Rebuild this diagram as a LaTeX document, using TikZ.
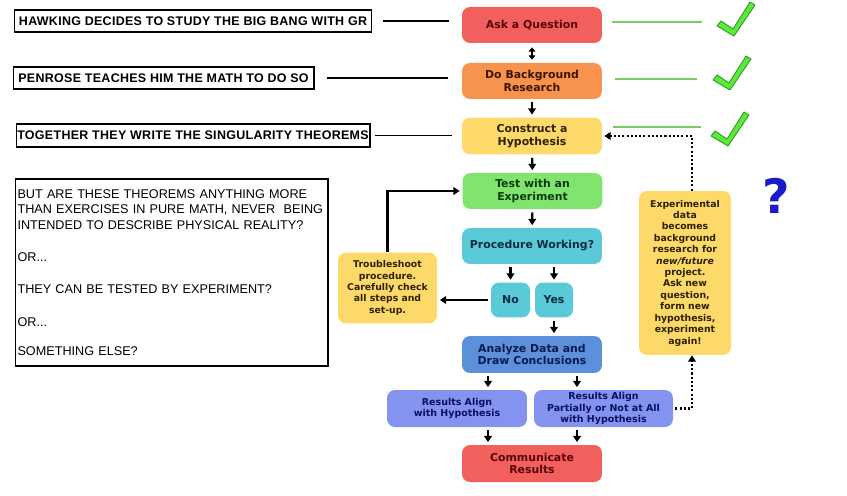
\documentclass[tikz,border=0pt]{standalone}
\usepackage{fontspec}
\setmainfont{Liberation Sans}
\newfontfamily\flowfont{DejaVu Sans}
\newfontfamily\headfont[LetterSpace=2.4]{Liberation Sans}
\usetikzlibrary{positioning}
\usetikzlibrary{arrows.meta}
\definecolor{askred}{HTML}{F2605E}
\definecolor{askink}{HTML}{5A0505}
\definecolor{bgorange}{HTML}{F7934C}
\definecolor{bgink}{HTML}{3A1400}
\definecolor{hypyellow}{HTML}{FCD968}
\definecolor{yelink}{HTML}{2E2000}
\definecolor{testgreen}{HTML}{80E46F}
\definecolor{testink}{HTML}{0B3B0B}
\definecolor{proccyan}{HTML}{5BCAD8}
\definecolor{procink}{HTML}{0B2B40}
\definecolor{anablue}{HTML}{5C90DA}
\definecolor{anaink}{HTML}{0A1A50}
\definecolor{resblue}{HTML}{8593F0}
\definecolor{resink}{HTML}{0A1060}
\definecolor{chkfill}{HTML}{5CE83C}
\definecolor{chkedge}{HTML}{2E9A1E}
\definecolor{chkline}{HTML}{7ACC66}
\definecolor{qblue}{HTML}{1A1ACC}
\tikzset{
    flowbox/.style = {rounded corners=0.16cm, align=center, inner sep=1pt,
        font=\flowfont\bfseries\fontsize{6.2}{7.3}\selectfont,
        minimum width=2.8cm, minimum height=0.72cm},
    notebox/.style = {rounded corners=0.16cm, align=center, inner sep=1pt,
        fill=hypyellow, text=yelink,
        font=\flowfont\bfseries\fontsize{5.3}{6.5}\selectfont},
    resbox/.style = {flowbox, fill=resblue, text=resink,
        font=\flowfont\bfseries\fontsize{5.4}{6.4}\selectfont},
    leftbox/.style = {draw=black, line width=0.6pt, inner sep=0pt,
        font=\headfont\bfseries\fontsize{7.1}{9}\selectfont},
    bigbox/.style = {draw=black, line width=0.6pt, inner xsep=0.05cm,
        font=\fontsize{7.2}{8.8}\selectfont},
    arr/.style = {-{Triangle[length=3.6pt,width=4.4pt]}, line width=1.2pt,
        shorten <=0.06cm, shorten >=0.05cm},
    dblarr/.style = {{Triangle[length=2.4pt,width=3.8pt]}-{Triangle[length=2.4pt,width=3.8pt]},
        line width=1.2pt, shorten <=0.08cm, shorten >=0.06cm},
    dotarr/.style = {-{Triangle[length=3.6pt,width=4.4pt]}, line width=1.3pt,
        dash pattern=on 1.2pt off 1.2pt},
    plainline/.style = {line width=0.7pt},
    greenline/.style = {line width=0.7pt, draw=chkline},
    chk/.pic = {
        \filldraw[fill=chkfill, draw=chkedge, line width=0.5pt, line join=round]
            (0,1) -- (-17,-9) -- (-13,-14) -- (-1,-6) -- (16,-33) -- (21,-30) -- cycle;
    },
}
\begin{document}
\begin{tikzpicture}[x=0.02cm, y=-0.02cm]
\useasboundingbox (0,0) rectangle (847,496);
% left column
\node[leftbox, minimum width=7.16cm, minimum height=0.44cm] at (193,21) (hawk)
    {HAWKING DECIDES TO STUDY THE BIG BANG WITH GR};
\node[leftbox, minimum width=6.02cm, minimum height=0.44cm] at (163.5,78) (pen)
    {PENROSE TEACHES HIM THE MATH TO DO SO};
\node[leftbox, minimum width=7.08cm, minimum height=0.46cm] at (193,135.5) (tog)
    {TOGETHER THEY WRITE THE SINGULARITY THEOREMS};
\node[bigbox, minimum width=6.26cm, minimum height=3.74cm, text width=6.16cm,
      align=left] at (171.5,272.5) (quest)
    {BUT ARE THESE THEOREMS ANYTHING MORE\\
     THAN EXERCISES IN PURE MATH, NEVER\ \ BEING\\
     INTENDED TO DESCRIBE PHYSICAL REALITY?\\[9.4pt]
     OR...\\[9.4pt]
     THEY CAN BE TESTED BY EXPERIMENT?\\[10.4pt]
     OR...\\[7.6pt]
     SOMETHING ELSE?};
% flow chart
\node[flowbox, fill=askred, text=askink] at (532,25) (ask) {Ask a Question};
\node[flowbox, fill=bgorange, text=bgink] at (532,81) (bg) {Do Background\\Research};
\node[flowbox, fill=hypyellow, text=yelink, minimum height=0.74cm] at (532,136) (hyp)
    {Construct a\\Hypothesis};
\node[flowbox, fill=testgreen, text=testink] at (532.5,191) (test) {Test with an\\Experiment};
\node[flowbox, fill=proccyan, text=procink] at (532,246) (proc) {Procedure Working?};
\node[flowbox, fill=proccyan, text=procink, minimum width=0.78cm, minimum height=0.7cm]
    at (510.5,300) (no) {No};
\node[flowbox, fill=proccyan, text=procink, minimum width=0.76cm, minimum height=0.7cm]
    at (554,300) (yes) {Yes};
\node[notebox, minimum width=1.98cm, minimum height=1.42cm] at (387.5,288) (trb)
    {Troubleshoot\\procedure.\\Carefully check\\all steps and\\set-up.};
\node[flowbox, fill=anablue, text=anaink, minimum height=0.74cm] at (532,354.5) (ana)
    {Analyze Data and\\Draw Conclusions};
\node[resbox, minimum height=0.74cm] at (457,408.5) (res1)
    {Results Align\\with Hypothesis};
\node[resbox, minimum width=2.78cm, minimum height=0.74cm] at (603.5,408.5) (res2)
    {Results Align\\Partially or Not at All\\with Hypothesis};
\node[flowbox, fill=askred, text=askink, minimum height=0.74cm] at (532,463.5) (comm)
    {Communicate\\Results};
\node[notebox, minimum width=1.84cm, minimum height=3.28cm] at (685,273) (exp)
    {Experimental\\data\\becomes\\background\\research for\\\textit{new/future}\\project.\\
     Ask new\\question,\\form new\\hypothesis,\\experiment\\again!};
\node[text=qblue, font=\flowfont\bfseries\fontsize{27}{27}\selectfont] at (776,196) (qm) {?};
%
\draw[dblarr] (ask) -- (bg);
\draw[arr] (bg) -- (hyp);
\draw[arr] (hyp) -- (test);
\draw[arr] (test) -- (proc);
\draw[arr] (no.north |- proc.south) -- (no.north);
\draw[arr] (yes.north |- proc.south) -- (yes.north);
\draw[arr] (no.west) -- (no.west -| trb.east);
\draw[arr, shorten <=0pt] (trb.north) |- (test.west);
\draw[arr] (yes.south) -- (yes.south |- ana.north);
\draw[arr] ([xshift=-0.88cm]ana.south) -- ([xshift=-0.88cm]ana.south |- res1.north);
\draw[arr] ([xshift=0.9cm]ana.south) -- ([xshift=0.9cm]ana.south |- res2.north);
\draw[arr] ([xshift=-0.88cm]comm.north |- res1.south) -- ([xshift=-0.88cm]comm.north);
\draw[arr] ([xshift=0.9cm]comm.north |- res2.south) -- ([xshift=0.9cm]comm.north);
%
\draw[dotarr, shorten <=0.04cm] (res2.east) -| ([xshift=0.14cm]exp.south);
\draw[dotarr, shorten >=0.04cm] ([xshift=0.14cm]exp.north) |- (hyp.east);
%
\draw[plainline, shorten <=0.22cm, shorten >=0.26cm] (hawk.east) -- (hawk.east -| ask.west);
\draw[plainline, shorten <=0.24cm, shorten >=0.28cm] (pen.east) -- (pen.east -| bg.west);
\draw[plainline, shorten <=0.1cm, shorten >=0.2cm] (tog.east) -- (tog.east -| hyp.west);
%
\coordinate (g1a) at (612,22);  \coordinate (g1b) at (702,22);
\coordinate (g2a) at (615,79);  \coordinate (g2b) at (697,79);
\coordinate (g3a) at (613,127); \coordinate (g3b) at (701,127);
\draw[greenline] (g1a) -- (g1b);
\draw[greenline] (g2a) -- (g2b);
\draw[greenline] (g3a) -- (g3b);
\pic at (734,35) {chk};
\pic at (730,89) {chk};
\pic at (728,145) {chk};
\end{tikzpicture}
\end{document}
